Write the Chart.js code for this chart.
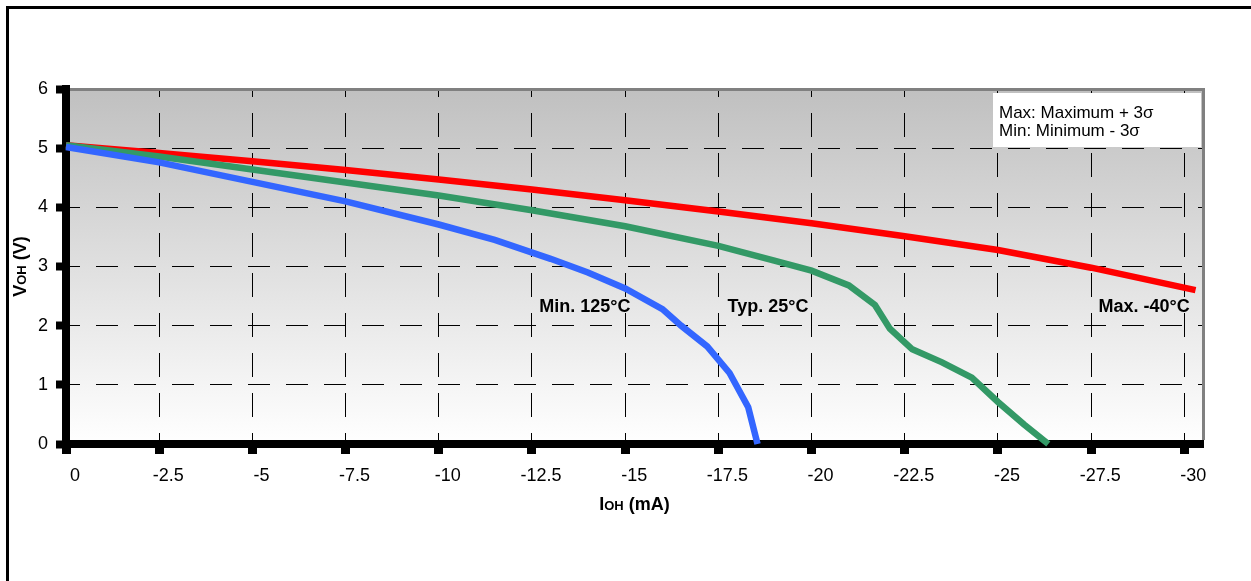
<!DOCTYPE html>
<html><head><meta charset="utf-8">
<script src="https://cdn.jsdelivr.net/npm/chart.js@4.4.1/dist/chart.umd.min.js"></script>
<style>html,body{margin:0;padding:0;background:#fff;overflow:hidden}#wrap{width:1251px;height:581px;position:relative}</style>
</head><body><div id="wrap"><canvas id="c" width="1251" height="581"></canvas></div>
<script>
// ---- data ----
const xTickValues = [0, -2.5, -5, -7.5, -10, -12.5, -15, -17.5, -20, -22.5, -25, -27.5, -30];
const yTickValues = [0, 1, 2, 3, 4, 5, 6];
const seriesNames = ['Min. 125°C', 'Typ. 25°C', 'Max. -40°C'];
const minI = [0, -2.5, -5, -7.5, -10, -11.5, -13, -14, -15, -16, -16.5, -17.2, -17.8, -18.3, -18.55];
const minV = [5.02, 4.76, 4.43, 4.10, 3.71, 3.45, 3.13, 2.90, 2.63, 2.28, 2.00, 1.65, 1.20, 0.62, 0];
const typI = [0, -2.5, -5, -7.5, -10, -12.5, -15, -17.5, -19, -20, -21, -21.7, -22.1, -22.7, -23.5, -24.3, -25, -25.7, -26.35];
const typV = [5.05, 4.86, 4.64, 4.42, 4.20, 3.95, 3.68, 3.35, 3.10, 2.93, 2.68, 2.35, 1.95, 1.60, 1.38, 1.12, 0.71, 0.33, 0];
const maxI = [0, -2.5, -5, -7.5, -10, -12.5, -15, -17.5, -20, -22.5, -25, -27.5, -30.3];
const maxV = [5.05, 4.92, 4.78, 4.63, 4.47, 4.30, 4.12, 3.93, 3.73, 3.51, 3.28, 2.98, 2.60];
const noteLines = ['Max: Maximum + 3σ', 'Min: Minimum - 3σ'];
const xTitleParts = ['I', 'OH', ' (mA)'];
const yTitleParts = ['V', 'OH', ' (V)'];

// ---- layout / style (not data) ----
const F = "'Liberation Sans', Arial, sans-serif";
const colors = ['#3366ff', '#339966', '#ff0000'];
const labelAnchors = [[-13.92, 2.315], [-18.83, 2.315], [-28.92, 2.315]];

const toPts = (I, V) => I.map((x, i) => ({x: x, y: V[i]}));
const seriesPts = [toPts(minI, minV), toPts(typI, typV), toPts(maxI, maxV)];

function drawParts(ctx, parts, sizes, cx, baseY) {
  let widths = parts.map((p, i) => { ctx.font = 'bold ' + sizes[i] + 'px ' + F; return ctx.measureText(p).width; });
  const total = widths.reduce((a, b) => a + b, 0);
  let x = cx - total / 2;
  ctx.textBaseline = 'alphabetic'; ctx.textAlign = 'left'; ctx.fillStyle = '#000';
  parts.forEach((p, i) => { ctx.font = 'bold ' + sizes[i] + 'px ' + F; ctx.fillText(p, x, baseY); x += widths[i]; });
}

const deco = {
  id: 'deco',
  beforeDraw(chart) {
    const {ctx, chartArea: a} = chart;
    ctx.save();
    ctx.fillStyle = '#fff'; ctx.fillRect(0, 0, chart.width, chart.height);
    const g = ctx.createLinearGradient(0, a.top, 0, a.bottom);
    g.addColorStop(0, '#c0c0c0'); g.addColorStop(1, '#ffffff');
    ctx.fillStyle = g; ctx.fillRect(a.left, a.top, a.right - a.left, a.bottom - a.top);
    ctx.fillStyle = '#000';
    ctx.fillRect(6, 6, chart.width - 6, 3);
    ctx.fillRect(6, 6, 3, chart.height - 6);
    ctx.restore();
  },
  beforeDatasetsDraw(chart) {
    const {ctx, chartArea: a} = chart;
    ctx.save();
    ctx.fillStyle = '#808080';
    ctx.fillRect(a.left + 4, a.top - 1, a.right - a.left - 3, 3);
    ctx.fillRect(a.right - 1, a.top - 1, 3, a.bottom - a.top - 3);
    ctx.restore();
  },
  afterDatasetsDraw(chart) {
    const {ctx, chartArea: a, scales} = chart;
    ctx.save();
    // note box
    const bw = 208, bh = 54, bx = a.right - 2 - bw, by = a.top + 4;
    ctx.fillStyle = '#fff'; ctx.fillRect(bx, by, bw, bh);
    ctx.fillStyle = '#000'; ctx.font = '17px ' + F; ctx.textAlign = 'left'; ctx.textBaseline = 'alphabetic';
    noteLines.forEach((t, i) => ctx.fillText(t, bx + 6, by + 25 + i * 18));
    // curve labels
    ctx.font = 'bold 18px ' + F; ctx.textAlign = 'center'; ctx.textBaseline = 'middle';
    seriesNames.forEach((n, i) => {
      ctx.fillText(n, scales.x.getPixelForValue(labelAnchors[i][0]), scales.y.getPixelForValue(labelAnchors[i][1]));
    });
    // axis titles
    drawParts(ctx, xTitleParts, [18, 13, 18], (a.left + a.right) / 2, 510);
    ctx.translate(26, (a.top + a.bottom) / 2);
    ctx.rotate(-Math.PI / 2);
    drawParts(ctx, yTitleParts, [18, 13, 18], 0, 0);
    ctx.restore();
  }
};

new Chart(document.getElementById('c'), {
  type: 'line',
  data: {
    datasets: seriesNames.map((n, i) => ({
      label: n, data: seriesPts[i], borderColor: colors[i], backgroundColor: colors[i],
      borderWidth: 6.5, pointRadius: 0, tension: 0, fill: false, clip: false, borderCapStyle: 'butt'
    }))
  },
  options: {
    responsive: false, animation: false, devicePixelRatio: 1,
    layout: {padding: {left: 0, top: 89, right: 48, bottom: 0}},
    plugins: {legend: {display: false}, tooltip: {enabled: false}, title: {display: false}},
    scales: {
      x: {
        type: 'linear', reverse: true, min: -30.5, max: 0,
        afterBuildTicks: s => { s.ticks = xTickValues.map(v => ({value: v})); },
        afterFit: s => { s.height = 137; },
        ticks: {color: '#000', font: {family: F, size: 18}, padding: 11, labelOffset: 9, maxRotation: 0, autoSkip: false,
          callback: v => String(v)},
        grid: {color: '#000', lineWidth: 1, tickLength: 10, tickWidth: 9, tickColor: '#000', drawTicks: true},
        border: {display: true, color: '#000', width: 8, dash: [24, 16], dashOffset: 16}
      },
      y: {
        type: 'linear', min: 0, max: 6,
        afterBuildTicks: s => { s.ticks = yTickValues.map(v => ({value: v})); },
        afterFit: s => { s.width = 66; },
        ticks: {color: '#000', font: {family: F, size: 18}, padding: 8, callback: v => String(v)},
        grid: {color: '#000', lineWidth: 1, tickLength: 10, tickWidth: 8, tickColor: '#000', drawTicks: true},
        border: {display: true, color: '#000', width: 8, dash: [22, 16], dashOffset: 12}
      }
    }
  },
  plugins: [deco]
});
</script></body></html>
